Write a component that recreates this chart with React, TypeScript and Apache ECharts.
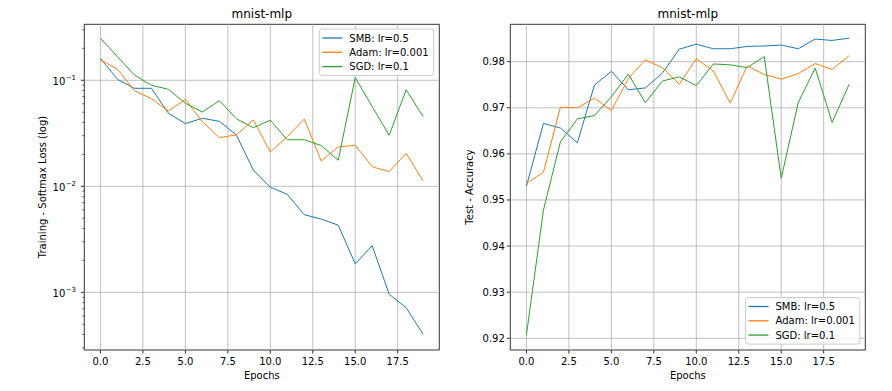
import React, { useEffect, useRef } from 'react';
import * as echarts from 'echarts';

const FONT = '"DejaVu Sans", sans-serif';

const epochs = [0, 1, 2, 3, 4, 5, 6, 7, 8, 9, 10, 11, 12, 13, 14, 15, 16, 17, 18, 19];

const seriesNames = ['SMB: lr=0.5', 'Adam: lr=0.001', 'SGD: lr=0.1'];
const colors = ['#1f77b4', '#ff7f0e', '#2ca02c'];

const lossSMB = [0.161, 0.102, 0.084, 0.084, 0.0489, 0.039, 0.0438, 0.041, 0.0305, 0.01425, 0.0098, 0.0084, 0.0054, 0.0049, 0.0043, 0.00186, 0.00275, 0.00096, 0.000716, 0.000402];
const lossAdam = [0.156, 0.127, 0.0798, 0.067, 0.0513, 0.066, 0.0407, 0.0288, 0.0305, 0.0422, 0.0211, 0.0294, 0.0431, 0.0173, 0.0235, 0.0244, 0.0153, 0.01374, 0.0205, 0.0112];
const lossSGD = [0.249, 0.167, 0.112, 0.0897, 0.0822, 0.0607, 0.0502, 0.0642, 0.0434, 0.0357, 0.042, 0.0275, 0.0275, 0.0242, 0.0176, 0.106, 0.0564, 0.0303, 0.0815, 0.0454];

const accSMB = [0.953, 0.9666, 0.9656, 0.9624, 0.9749, 0.9779, 0.9739, 0.9743, 0.9775, 0.9827, 0.9838, 0.9828, 0.9828, 0.9833, 0.9834, 0.9836, 0.9828, 0.9849, 0.9846, 0.9851];
const accAdam = [0.9536, 0.956, 0.9701, 0.97, 0.9721, 0.9694, 0.9763, 0.9804, 0.9787, 0.9751, 0.9806, 0.978, 0.971, 0.9791, 0.9772, 0.9762, 0.9774, 0.9796, 0.9783, 0.9813];
const accSGD = [0.9207, 0.9478, 0.9626, 0.9676, 0.9683, 0.9724, 0.9773, 0.9711, 0.9758, 0.9767, 0.9748, 0.9795, 0.9793, 0.9787, 0.9811, 0.9547, 0.9711, 0.9786, 0.9668, 0.9751];

const xTicks = [0, 2.5, 5, 7.5, 10, 12.5, 15, 17.5];
const xTickLabels = ['0.0', '2.5', '5.0', '7.5', '10.0', '12.5', '15.0', '17.5'];
const lossTicks = [0.001, 0.01, 0.1];
const lossTickExps = ['\u22123', '\u22122', '\u22121'];
const lossMinorTicks = [0.0003, 0.0004, 0.0005, 0.0006, 0.0007, 0.0008, 0.0009, 0.002, 0.003, 0.004, 0.005, 0.006, 0.007, 0.008, 0.009, 0.02, 0.03, 0.04, 0.05, 0.06, 0.07, 0.08, 0.09, 0.2, 0.3];
const accTicks = [0.92, 0.93, 0.94, 0.95, 0.96, 0.97, 0.98];
const accTickLabels = ['0.92', '0.93', '0.94', '0.95', '0.96', '0.97', '0.98'];

const X_MIN = -0.95;
const X_MAX = 19.95;
const LOSS_MIN = 0.000286;
const LOSS_MAX = 0.337;
const ACC_MIN = 0.91746;
const ACC_MAX = 0.9881;

function txt(text: string, x: number, y: number, size: number, align: string, valign: string, extra: any = {}) {
  return {
    type: 'text',
    x,
    y,
    ...extra,
    style: {
      text,
      fill: '#000',
      textFill: '#000',
      fontSize: size,
      fontFamily: FONT,
      align,
      verticalAlign: valign,
      textAlign: align,
      textVerticalAlign: valign,
    },
  };
}

function line(x1: number, y1: number, x2: number, y2: number, stroke: string, w: number) {
  return { type: 'line', shape: { x1, y1, x2, y2 }, style: { stroke, lineWidth: w } };
}

function xTickSeries(gridIdx: number, yRef: number) {
  return {
    type: 'custom',
    xAxisIndex: gridIdx,
    yAxisIndex: gridIdx,
    z: 1,
    silent: true,
    data: xTicks.map((v) => [v, yRef]),
    renderItem: (params: any, api: any) => {
      const cs = params.coordSys;
      const px = api.coord([api.value(0), yRef])[0];
      const bottom = cs.y + cs.height;
      return {
        type: 'group',
        children: [
          line(px, cs.y, px, bottom, '#b0b0b0', 0.8),
          line(px, bottom, px, bottom + 3.5, '#000', 0.8),
          txt(xTickLabels[params.dataIndex], px, bottom + 6, 10, 'center', 'top'),
        ],
      };
    },
  };
}

function App() {
  const ref = useRef<HTMLDivElement>(null);
  useEffect(() => {
    if (!ref.current) return;
    const chart = echarts.init(ref.current, null, { renderer: 'svg' });

    const lossData = [lossSMB, lossAdam, lossSGD];
    const accData = [accSMB, accAdam, accSGD];

    const lineSeries: any[] = [];
    lossData.forEach((arr, i) => {
      lineSeries.push({
        type: 'line',
        name: seriesNames[i],
        xAxisIndex: 0,
        yAxisIndex: 0,
        data: epochs.map((e, k) => [e, arr[k]]),
        showSymbol: false,
        symbol: 'none',
        color: colors[i],
        lineStyle: { color: colors[i], width: 1 },
        z: 3,
      });
    });
    accData.forEach((arr, i) => {
      lineSeries.push({
        type: 'line',
        name: seriesNames[i],
        xAxisIndex: 1,
        yAxisIndex: 1,
        data: epochs.map((e, k) => [e, arr[k]]),
        showSymbol: false,
        symbol: 'none',
        color: colors[i],
        lineStyle: { color: colors[i], width: 1 },
        z: 3,
      });
    });

    const lossTickSeries = {
      type: 'custom',
      xAxisIndex: 0,
      yAxisIndex: 0,
      z: 1,
      silent: true,
      data: lossTicks.map((v) => [0, v]),
      renderItem: (params: any, api: any) => {
        const cs = params.coordSys;
        const py = api.coord([0, api.value(1)])[1];
        return {
          type: 'group',
          children: [
            line(cs.x, py, cs.x + cs.width, py, '#b0b0b0', 0.8),
            line(cs.x - 3.5, py, cs.x, py, '#000', 0.8),
            txt('10', cs.x - 19, py + 1.5, 10, 'right', 'middle'),
            txt(lossTickExps[params.dataIndex], cs.x - 18.6, py - 2, 7, 'left', 'middle'),
          ],
        };
      },
    };

    const lossMinorSeries = {
      type: 'custom',
      xAxisIndex: 0,
      yAxisIndex: 0,
      z: 1,
      silent: true,
      data: lossMinorTicks.map((v) => [0, v]),
      renderItem: (params: any, api: any) => {
        const cs = params.coordSys;
        const py = api.coord([0, api.value(1)])[1];
        return line(cs.x - 2, py, cs.x, py, '#000', 0.6);
      },
    };

    const accTickSeries = {
      type: 'custom',
      xAxisIndex: 1,
      yAxisIndex: 1,
      z: 1,
      silent: true,
      data: accTicks.map((v) => [0, v]),
      renderItem: (params: any, api: any) => {
        const cs = params.coordSys;
        const py = api.coord([0, api.value(1)])[1];
        return {
          type: 'group',
          children: [
            line(cs.x, py, cs.x + cs.width, py, '#b0b0b0', 0.8),
            line(cs.x - 3.5, py, cs.x, py, '#000', 0.8),
            txt(accTickLabels[params.dataIndex], cs.x - 5.5, py, 10, 'right', 'middle'),
          ],
        };
      },
    };

    const hiddenAxis = {
      axisLine: { show: false },
      axisTick: { show: false },
      axisLabel: { show: false },
      splitLine: { show: false },
    };

    const legendBase = {
      data: seriesNames,
      orient: 'vertical',
      icon: 'rect',
      itemWidth: 20,
      itemHeight: 1.3,
      itemGap: 2.3,
      padding: [3, 5, 3, 3],
      backgroundColor: 'rgba(255,255,255,0.8)',
      borderColor: '#cccccc',
      borderWidth: 1,
      borderRadius: 3,
      selectedMode: false,
      textStyle: { fontSize: 10, fontFamily: FONT, color: '#000', lineHeight: 12, padding: [0, 0, 0, 2] },
    };

    const option: any = {
      animation: false,
      backgroundColor: '#fff',
      grid: [
        { left: 84.3, top: 24.3, width: 355, height: 325.7, show: true, borderColor: '#000', borderWidth: 0.8, backgroundColor: 'transparent' },
        { left: 510.3, top: 24.3, width: 355, height: 325.7, show: true, borderColor: '#000', borderWidth: 0.8, backgroundColor: 'transparent' },
      ],
      xAxis: [
        { type: 'value', gridIndex: 0, min: X_MIN, max: X_MAX, ...hiddenAxis },
        { type: 'value', gridIndex: 1, min: X_MIN, max: X_MAX, ...hiddenAxis },
      ],
      yAxis: [
        { type: 'log', logBase: 10, gridIndex: 0, min: LOSS_MIN, max: LOSS_MAX, ...hiddenAxis },
        { type: 'value', gridIndex: 1, min: ACC_MIN, max: ACC_MAX, ...hiddenAxis },
      ],
      legend: [
        { ...legendBase, left: 319.3, top: 29 },
        { ...legendBase, left: 745.5, top: 297.5 },
      ],
      series: [
        xTickSeries(0, 0.01),
        xTickSeries(1, 0.95),
        lossTickSeries,
        lossMinorSeries,
        accTickSeries,
        ...lineSeries,
      ],
      graphic: [
        txt('mnist-mlp', 261.8, 14.3, 12, 'center', 'middle'),
        txt('mnist-mlp', 687.8, 14.3, 12, 'center', 'middle'),
        txt('Epochs', 261.8, 375, 10, 'center', 'middle'),
        txt('Epochs', 687.8, 375, 10, 'center', 'middle'),
        txt('Training - Softmax Loss (log)', 42, 187, 10, 'center', 'middle', { rotation: Math.PI / 2 }),
        txt('Test - Accuracy', 469.5, 187, 10, 'center', 'middle', { rotation: Math.PI / 2 }),
      ],
    };

    chart.setOption(option);
    return () => {
      chart.dispose();
    };
  }, []);

  return (
    <div
      ref={ref}
      style={{ position: 'fixed', left: 0, top: 0, width: 892, height: 391, background: '#fff' }}
    />
  );
}

export default App;
